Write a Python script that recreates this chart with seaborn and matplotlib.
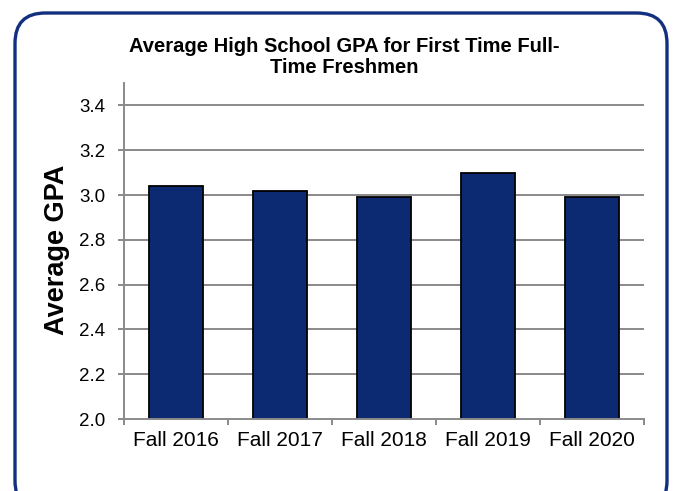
import matplotlib
matplotlib.use("Agg")
import matplotlib.pyplot as plt
from matplotlib.patches import FancyBboxPatch
import seaborn as sns
import pandas as pd

# Data
terms = ["Fall 2016", "Fall 2017", "Fall 2018", "Fall 2019", "Fall 2020"]
avg_gpa = [3.04, 3.02, 2.99, 3.10, 2.99]
y_ticks = [2.0, 2.2, 2.4, 2.6, 2.8, 3.0, 3.2, 3.4]

df = pd.DataFrame({"term": terms, "gpa": avg_gpa})

sns.set_style("white")
plt.rcParams["font.family"] = ["Liberation Sans", "DejaVu Sans"]
plt.rcParams["text.color"] = "black"
plt.rcParams["xtick.labelcolor"] = "black"
plt.rcParams["ytick.labelcolor"] = "black"

W, H = 673, 491
fig = plt.figure(figsize=(W / 100, H / 100), dpi=100)
ax = fig.add_axes([124 / W, 1 - 419 / H, (644 - 124) / W, (419 - 83) / H])

grid_c = "#8a8a8a"
bar_c = "#0c2a72"

ax.set_axisbelow(True)
for yv in y_ticks[1:]:
    ax.axhline(yv, color=grid_c, lw=1.4, zorder=0)

sns.barplot(data=df, x="term", y="gpa", color=bar_c, width=0.51,
            edgecolor="black", linewidth=1.3, saturation=1, ax=ax, zorder=2)

ax.set_ylim(2.0, 3.5)
ax.set_xlim(-0.5, len(terms) - 0.5)
ax.set_yticks(y_ticks)
ax.set_yticklabels([f"{v:.1f}" for v in y_ticks], fontsize=13.5)
ax.set_xticks(range(len(terms)))
ax.set_xticklabels(terms, fontsize=15)
ax.set_xticks([i - 0.5 for i in range(len(terms) + 1)], minor=True)
ax.tick_params(axis="x", which="both", bottom=True)
ax.tick_params(axis="x", which="major", length=0, pad=9)
ax.tick_params(axis="x", which="minor", length=4, width=1.4, color=grid_c)
ax.tick_params(axis="y", left=True, length=4.5, width=1.4, color=grid_c, pad=9)
ax.set_xlabel("")
ax.set_ylabel("")

for side in ["top", "right"]:
    ax.spines[side].set_visible(False)
for side in ["left", "bottom"]:
    ax.spines[side].set_color(grid_c)
    ax.spines[side].set_linewidth(1.4)

fig.text(344 / W, 1 - 57 / H, "Average High School GPA for First Time Full-\nTime Freshmen",
         ha="center", va="center", fontsize=14.5, fontweight="bold", linespacing=1.12)
fig.text(57 / W, 1 - 250 / H, "Average GPA", rotation=90, ha="center", va="center",
         fontsize=19.5, fontweight="bold")

# Rounded frame around the chart
frame = FancyBboxPatch((15 / W, -20 / H), (667 - 15) / W, (H - 13 + 20) / H,
                       boxstyle="round,pad=0,rounding_size=0.045",
                       transform=fig.transFigure, fill=False,
                       edgecolor="#12307f", linewidth=2.4, mutation_aspect=W / H)
fig.patches.append(frame)

fig.savefig("out.png", dpi=100)
